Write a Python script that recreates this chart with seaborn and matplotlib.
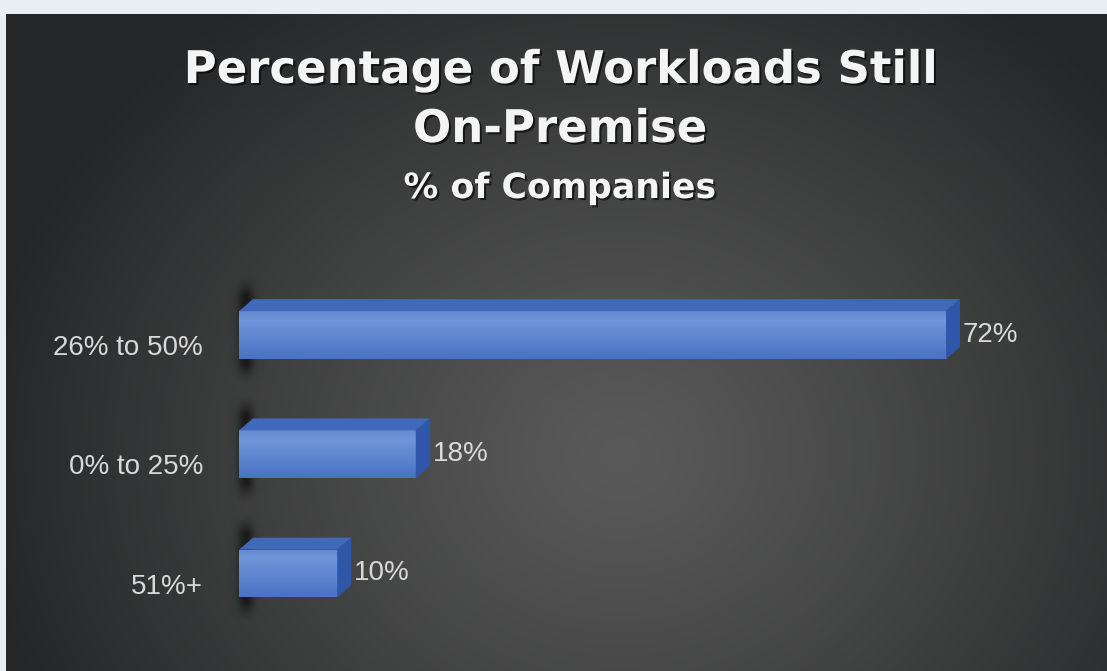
import numpy as np
import matplotlib
matplotlib.use("Agg")
import matplotlib.pyplot as plt
import matplotlib.patheffects as pe
from matplotlib.colors import LinearSegmentedColormap, to_rgb
from matplotlib.transforms import ScaledTranslation
import seaborn as sns

# ---- data -------------------------------------------------------------
categories = ["26% to 50%", "0% to 25%", "51%+"]
values = [72, 18, 10]
value_labels = [f"{v}%" for v in values]
title_lines = ["Percentage of Workloads Still", "On-Premise"]
subtitle = "% of Companies"

# ---- figure geometry (pixels) -----------------------------------------
W, H, DPI = 1107, 671, 100
PANEL_LEFT, PANEL_TOP = 6, 14
AX_LEFT_PX, AX_RIGHT_PX = 239, 1100
PX_PER_UNIT = 9.82            # horizontal scale of the value axis
ROW_TOP_PX, ROW_STEP_PX = 335, 119.25
BAR_W = 0.40
DEPTH_X_PX, DEPTH_Y_PX = 14, 12

sns.set_theme(style="white")
plt.rcParams["font.family"] = ["Liberation Sans", "DejaVu Sans"]

fig = plt.figure(figsize=(W / DPI, H / DPI), dpi=DPI, facecolor="#e9eef3")

# ---- dark radial-gradient backdrop ------------------------------------
bg = fig.add_axes([PANEL_LEFT / W, 0, (W - PANEL_LEFT) / W, (H - PANEL_TOP) / H])
pw, ph = W - PANEL_LEFT, H - PANEL_TOP
yy, xx = np.mgrid[0:ph, 0:pw]
r = np.sqrt(((xx - 614) / 650.0) ** 2 + ((yy - 440) / 560.0) ** 2)
r = np.clip(r, 0, 1) ** 1.15
inner = np.array(to_rgb("#5a5a5a"))
outer = np.array(to_rgb("#252627"))
img = inner[None, None, :] + (outer - inner)[None, None, :] * r[..., None]
bg.imshow(img, aspect="auto", interpolation="bilinear")
bg.set_axis_off()

# ---- main bar axes ----------------------------------------------------
x_max = (AX_RIGHT_PX - AX_LEFT_PX) / PX_PER_UNIT
ax_top_px = ROW_TOP_PX - 0.5 * ROW_STEP_PX
ax_h_px = 3 * ROW_STEP_PX
ax = fig.add_axes([AX_LEFT_PX / W, 1 - (ax_top_px + ax_h_px) / H,
                   (AX_RIGHT_PX - AX_LEFT_PX) / W, ax_h_px / H])
ax.set_facecolor("none")

sns.barplot(x=values, y=categories, orient="h", width=BAR_W, color="#5b80cc",
            saturation=1, linewidth=0, ax=ax, zorder=3)

dx = DEPTH_X_PX / PX_PER_UNIT
dy = DEPTH_Y_PX / ROW_STEP_PX

front_cmap = LinearSegmentedColormap.from_list(
    "front", [(0.0, "#6488d1"), (0.18, "#7095d9"), (0.55, "#5f86cf"), (1.0, "#4a72c3")])
grad = front_cmap(np.linspace(0, 1, 64))[:, None, :]

for i, (patch, v) in enumerate(zip(ax.patches, values)):
    y0 = patch.get_y()
    y1 = y0 + patch.get_height()       # y0 is the upper edge (axis inverted)
    bar_px = patch.get_height() * ROW_STEP_PX

    # soft shadow cast on the back wall at the left end of each bar
    sx = np.linspace(-12, 30, 84)
    sy = np.linspace(-36, bar_px + 26, 160)
    ax_prof = np.exp(-((sx - 7) / 8.0) ** 2)
    top_ramp = np.clip((sy + 36) / 20.0, 0, 1) ** 1.5
    bot_ramp = np.clip((bar_px + 26 - sy) / 20.0, 0, 1) ** 1.5
    alpha = 0.72 * np.outer(top_ramp * bot_ramp, ax_prof)
    sh = np.zeros(alpha.shape + (4,))
    sh[..., :3] = 0.05
    sh[..., 3] = alpha
    ax.imshow(sh, extent=(sx[0] / PX_PER_UNIT, sx[-1] / PX_PER_UNIT,
                          y0 + sy[-1] / ROW_STEP_PX, y0 + sy[0] / ROW_STEP_PX),
              origin="upper", aspect="auto", zorder=1, clip_on=False,
              interpolation="bilinear")

    # shaded front face
    im = ax.imshow(grad, extent=(0, v, y1, y0), origin="upper", aspect="auto",
                   zorder=4, interpolation="bilinear")
    im.set_clip_path(patch)

    # top face
    ax.fill([0, v, v + dx, dx], [y0, y0, y0 - dy, y0 - dy],
            color="#4169b9", lw=0, zorder=5)
    # end face
    ax.fill([v, v + dx, v + dx, v], [y0, y0 - dy, y1 - dy, y1],
            color="#2e57aa", lw=0, zorder=5)

ax.set_xlim(0, x_max)
ax.set_ylim(2.5, -0.5)

ax.bar_label(ax.containers[0], labels=value_labels, padding=(DEPTH_X_PX + 3) * 72 / DPI,
             fontsize=20, color="#d9d9d9", zorder=6)

ax.set_xticks([])
ax.set_xlabel("")
ax.set_ylabel("")
ax.tick_params(axis="y", length=0, pad=36 * 72 / DPI, labelsize=20, labelcolor="#d9d9d9")
for lab in ax.get_yticklabels():
    lab.set_transform(lab.get_transform() + ScaledTranslation(0, -10 / DPI, fig.dpi_scale_trans))
for s in ax.spines.values():
    s.set_visible(False)

# ---- titles -----------------------------------------------------------
shadow = [pe.withSimplePatchShadow(offset=(1.5, -1.5), shadow_rgbFace="black", alpha=0.6)]
cx = 560 / W
fig.text(cx, 1 - 83 / H, title_lines[0], ha="center", va="baseline", fontsize=32.4,
         fontweight="bold", family="DejaVu Sans", color="#f4f4f4", path_effects=shadow)
fig.text(cx, 1 - 142 / H, title_lines[1], ha="center", va="baseline", fontsize=32.4,
         fontweight="bold", family="DejaVu Sans", color="#f4f4f4", path_effects=shadow)
fig.text(cx, 1 - 198 / H, subtitle, ha="center", va="baseline", fontsize=25,
         fontweight="bold", family="DejaVu Sans", color="#f4f4f4", path_effects=shadow)

fig.savefig("out.png", dpi=DPI, facecolor=fig.get_facecolor())
